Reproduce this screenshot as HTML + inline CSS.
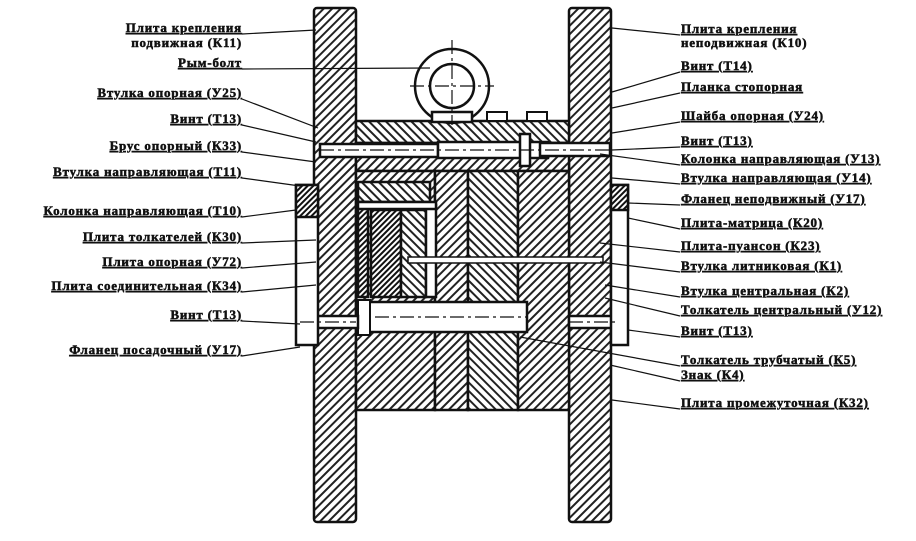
<!DOCTYPE html>
<html><head><meta charset="utf-8"><style>
html,body{margin:0;padding:0;background:#fff;}
svg{display:block;}
text{font-family:"Liberation Serif",serif;font-weight:bold;font-size:13px;letter-spacing:0.8px;fill:#111;stroke:#111;stroke-width:0.5px;text-decoration:underline;}
text.nu{text-decoration:none;}
</style></head><body>
<svg width="916" height="541" viewBox="0 0 916 541" xmlns="http://www.w3.org/2000/svg">
<defs>
<pattern id="h1" width="6" height="6" patternUnits="userSpaceOnUse" patternTransform="rotate(45)">
<rect width="6" height="6" fill="#fff"/><rect width="2" height="6" fill="#222"/></pattern>
<pattern id="h2" width="6" height="6" patternUnits="userSpaceOnUse" patternTransform="rotate(-45)">
<rect width="6" height="6" fill="#fff"/><rect width="2" height="6" fill="#222"/></pattern>
<pattern id="h3" width="4" height="4" patternUnits="userSpaceOnUse" patternTransform="rotate(45)">
<rect width="4" height="4" fill="#fff"/><rect width="2" height="4" fill="#111"/></pattern>
</defs>
<g stroke="#111" stroke-width="2.5">
<rect x="314" y="8" width="42" height="514" rx="3" fill="url(#h1)"/>
<rect x="569" y="8" width="42" height="514" rx="3" fill="url(#h1)"/>
<rect x="356" y="121" width="213" height="22" fill="url(#h2)"/>
<rect x="356" y="143" width="213" height="28" fill="url(#h1)"/>
<rect x="356" y="171" width="79" height="239" fill="url(#h1)"/>
<rect x="435" y="171" width="33" height="239" fill="url(#h1)"/>
<rect x="468" y="171" width="50" height="239" fill="url(#h2)"/>
<rect x="518" y="171" width="51" height="239" fill="url(#h1)"/>
<rect x="358" y="182" width="72" height="20" fill="url(#h2)"/>
<rect x="358" y="202" width="10" height="95" fill="url(#h3)"/>
<rect x="371" y="210" width="30" height="87" fill="url(#h3)"/>
<rect x="401" y="210" width="25" height="87" fill="url(#h2)"/>
<rect x="426" y="205" width="10" height="92" fill="#fff"/>
<rect x="358" y="202" width="78" height="7" fill="#fff"/>
<rect x="320" y="144" width="118" height="13" fill="#fff"/>
<rect x="438" y="142" width="110" height="16" fill="#fff"/>
<rect x="540" y="143" width="70" height="13" fill="#fff"/>
<rect x="520" y="134" width="10" height="32" fill="#fff"/>
<rect x="408" y="257" width="195" height="6" fill="#fff" stroke-width="1.5"/>
<rect x="367" y="302" width="160" height="30" fill="#fff"/>
<rect x="358" y="300" width="12" height="35" fill="#fff" stroke-width="2"/>
<rect x="300" y="316" width="58" height="12" fill="#fff"/>
<rect x="569" y="316" width="50" height="12" fill="#fff"/>
<rect x="296" y="185" width="22" height="160" fill="#fff"/>
<rect x="296" y="185" width="22" height="32" fill="url(#h3)"/>
<rect x="611" y="185" width="17" height="160" fill="#fff"/>
<rect x="611" y="185" width="17" height="25" fill="url(#h3)"/>
<circle cx="452" cy="86" r="37" fill="#fff"/>
<circle cx="452" cy="86" r="22" fill="#fff"/>
<rect x="432" y="112" width="40" height="10" fill="#fff"/>
<rect x="487" y="112" width="20" height="9" fill="#fff" stroke-width="2"/>
<rect x="527" y="112" width="20" height="9" fill="#fff" stroke-width="2"/>
</g>
<g stroke="#111" stroke-width="1.2" stroke-dasharray="14 4 3 4" fill="none">
<line x1="452" y1="40" x2="452" y2="125"/><line x1="410" y1="86" x2="494" y2="86"/>
<line x1="320" y1="150" x2="610" y2="150"/><line x1="375" y1="317" x2="527" y2="317"/>
<line x1="300" y1="322" x2="356" y2="322"/><line x1="569" y1="322" x2="619" y2="322"/>
</g>
<g stroke="#111" stroke-width="1.2" fill="none">
<path d="M242 34L316 30"/><path d="M242 69L430 68"/><path d="M242 99L318 128"/>
<path d="M242 125L316 142"/><path d="M242 152L316 162"/><path d="M242 178L300 186"/>
<path d="M242 217L296 210"/><path d="M242 243L316 240"/><path d="M242 268L316 262"/>
<path d="M242 292L316 285"/><path d="M242 321L300 324"/><path d="M242 356L300 347"/>
<path d="M612 28L680 35"/><path d="M612 92L680 72"/><path d="M612 108L680 93"/>
<path d="M612 133L680 122"/><path d="M612 150L680 147"/><path d="M600 154L680 165"/>
<path d="M612 178L680 184"/><path d="M628 203L680 205"/><path d="M628 218L680 229"/>
<path d="M600 243L680 252"/><path d="M600 262L680 272"/><path d="M605 285L680 297"/>
<path d="M605 298L680 316"/><path d="M628 330L680 337"/><path d="M520 337L680 366"/>
<path d="M610 365L680 381"/><path d="M612 400L680 409"/>
</g>
<g text-anchor="end">
<text x="242" y="32">Плита крепления</text><text x="242" y="47" class="nu">подвижная (К11)</text>
<text x="242" y="67">Рым-болт</text><text x="242" y="97">Втулка опорная (У25)</text>
<text x="242" y="123">Винт (Т13)</text><text x="242" y="150">Брус опорный (К33)</text>
<text x="242" y="176">Втулка направляющая (Т11)</text><text x="242" y="215">Колонка направляющая (Т10)</text>
<text x="242" y="241">Плита толкателей (К30)</text><text x="242" y="266">Плита опорная (У72)</text>
<text x="242" y="290">Плита соединительная (К34)</text><text x="242" y="319">Винт (Т13)</text>
<text x="242" y="354">Фланец посадочный (У17)</text>
</g>
<g>
<text x="681" y="33">Плита крепления</text><text x="681" y="47" class="nu">неподвижная (К10)</text>
<text x="681" y="70">Винт (Т14)</text><text x="681" y="91">Планка стопорная</text>
<text x="681" y="120">Шайба опорная (У24)</text><text x="681" y="145">Винт (Т13)</text>
<text x="681" y="163">Колонка направляющая (У13)</text><text x="681" y="182">Втулка направляющая (У14)</text>
<text x="681" y="203">Фланец неподвижный (У17)</text><text x="681" y="227">Плита-матрица (К20)</text>
<text x="681" y="250">Плита-пуансон (К23)</text><text x="681" y="270">Втулка литниковая (К1)</text>
<text x="681" y="295">Втулка центральная (К2)</text><text x="681" y="314">Толкатель центральный (У12)</text>
<text x="681" y="335">Винт (Т13)</text><text x="681" y="364">Толкатель трубчатый (К5)</text>
<text x="681" y="379">Знак (К4)</text><text x="681" y="407">Плита промежуточная (К32)</text>
</g>
</svg>
</body></html>
